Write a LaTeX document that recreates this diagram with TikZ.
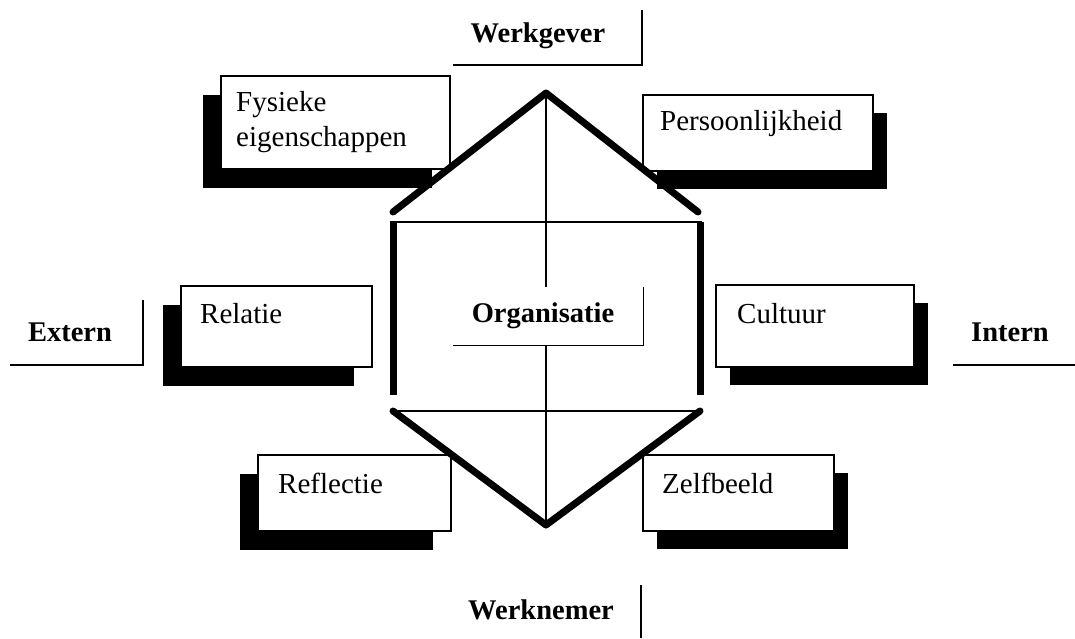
\documentclass[tikz,border=0pt]{standalone}
\usepackage{fontspec}
\setmainfont{Liberation Serif}
\usetikzlibrary{shadows}
\begin{document}
\begin{tikzpicture}[x=1pt,y=-1pt,
  card/.style={draw=black, line width=1.6pt, fill=white, inner sep=0pt, anchor=north west},
  lshadow/.style={drop shadow={shadow xshift=-18pt, shadow yshift=-19pt, fill=black, opacity=1}},
  rshadow/.style={drop shadow={shadow xshift=14pt, shadow yshift=-18pt, fill=black, opacity=1}},
  cardtext/.style={font=\fontsize{29}{35}\selectfont, anchor=west, inner sep=0pt, align=left},
  head/.style={font=\fontsize{28.5}{34}\selectfont\bfseries, inner sep=0pt},
  thinline/.style={line width=1.4pt},
  heavy/.style={line width=7pt, line cap=round, line join=round}]
\useasboundingbox (0,0) rectangle (1075,638);

% cards with drop shadows
\node[card, lshadow, minimum width=229pt, minimum height=93pt] (fys) at (220,75) {};
\node[card, rshadow, minimum width=230pt, minimum height=76pt] (pers) at (642,94) {};
\node[card, lshadow, minimum width=191pt, minimum height=81pt] (rel) at (180,285) {};
\node[card, rshadow, minimum width=198pt, minimum height=82pt] (cul) at (715,284) {};
\node[card, lshadow, minimum width=193pt, minimum height=76pt] (refl) at (257,454) {};
\node[card, rshadow, minimum width=191pt, minimum height=76pt] (zelf) at (642,454) {};

\node[cardtext] (fyst) at (236,122) {Fysieke\\eigenschappen};
\node[cardtext] (perst) at (660,124) {Persoonlijkheid};
\node[cardtext] (relt) at (200,314) {Relatie};
\node[cardtext] (cult) at (737,314) {Cultuur};
\node[cardtext] (reflt) at (278,483) {Reflectie};
\node[cardtext] (zelft) at (662,483) {Zelfbeeld};

% frame points
\coordinate (top) at (546,93);
\coordinate (bot) at (546,525);
\coordinate (roofL) at (393,212);
\coordinate (roofR) at (698,212);
\coordinate (rectTL) at (390,222);
\coordinate (rectTR) at (702,222);
\coordinate (sideLt) at (393,222);
\coordinate (sideLb) at (393,395);
\coordinate (sideRt) at (700,222);
\coordinate (sideRb) at (700,395);
\coordinate (baseL) at (393,411);
\coordinate (baseR) at (700,411);

% vertical axis, hidden behind the centre label
\draw[thinline] (top) -- (bot);
\node[fill=white, minimum width=190pt, minimum height=58pt, inner sep=0pt, anchor=north west] (orgbox) at (453,287) {};
\draw[thinline] (orgbox.north east) -- (orgbox.south east) -- (orgbox.south west);
\node[head] (org) at (543,316) {Organisatie};

% thin cross lines
\draw[thinline] (rectTL) -- (rectTR);
\draw[thinline] (baseL) -- (baseR);

% heavy outline
\draw[heavy] (roofL) -- (top) -- (roofR);
\draw[heavy, line cap=butt] (sideLt) -- (sideLb);
\draw[heavy, line cap=butt] (sideRt) -- (sideRb);
\draw[heavy] (baseL) -- (bot) -- (baseR);

% axis labels
\node[head] (wg) at (538,36) {Werkgever};
\coordinate (wgA) at (453,65);
\coordinate (wgB) at (642,65);
\coordinate (wgC) at (642,10);
\draw[thinline] (wgA) -- (wgB) -- (wgC);

\node[head] (ext) at (70,332) {Extern};
\coordinate (exA) at (10,365);
\coordinate (exB) at (143,365);
\coordinate (exC) at (143,300);
\draw[thinline] (exA) -- (exB) -- (exC);

\node[head] (int) at (1010,332) {Intern};
\coordinate (inA) at (953,365);
\coordinate (inB) at (1075,365);
\draw[thinline] (inA) -- (inB);

\node[head] (wn) at (541,610) {Werknemer};
\coordinate (wnA) at (641,585);
\coordinate (wnB) at (641,638);
\draw[thinline] (wnA) -- (wnB);
\end{tikzpicture}
\end{document}
